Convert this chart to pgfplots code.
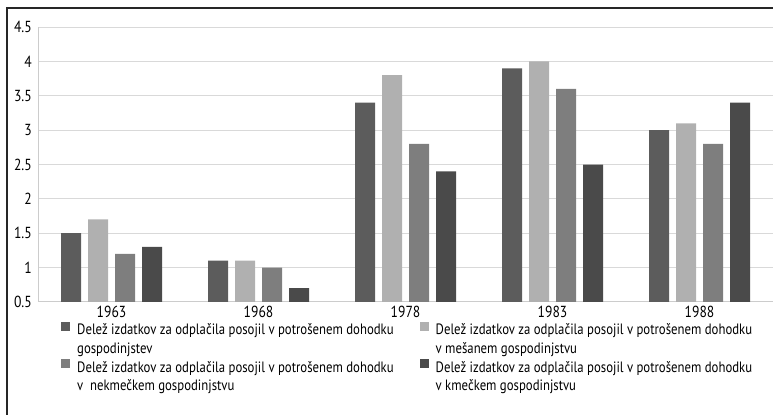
\documentclass[border=0pt]{standalone}
\usepackage{pgfplots}
\pgfplotsset{compat=1.18}
\usepackage{fontspec}
\setmainfont{PT Sans}[FakeStretch=0.85]
\definecolor{cA}{HTML}{5C5C5C}
\definecolor{cB}{HTML}{B0B0B0}
\definecolor{cC}{HTML}{7E7E7E}
\definecolor{cD}{HTML}{4A4A4A}
\newcommand{\twol}[2]{\vtop{\baselineskip=18.5bp\hbox{#1}\hbox{#2}}}
\begin{document}
\fontsize{15bp}{18bp}\selectfont
\begin{tikzpicture}
\useasboundingbox (0bp,0bp) rectangle (773bp,-415bp);
\draw[line width=1.3bp, black!85] (7bp,-416bp) -- (7bp,-8bp) -- (774bp,-8bp);
\begin{axis}[
  at={(38bp,-27bp)}, anchor=north west,
  width=735bp, height=275bp, scale only axis,
  ymin=0.5, ymax=4.5, xmin=-0.5, xmax=4.5,
  ytick={0.5,1,1.5,2,2.5,3,3.5,4,4.5},
  yticklabels={0.5,1,1.5,2,2.5,3,3.5,4,4.5},
  xtick={0,1,2,3,4},
  xticklabels={1963,1968,1978,1983,1988},
  major tick length=0pt,
  axis x line*=bottom, axis y line*=left,
  axis line style={draw=black!20, line width=1bp, -},
  ymajorgrids, grid style={draw=black!15, line width=1bp},
  ticklabel style={font=\fontsize{16bp}{18bp}\selectfont},
  yticklabel style={xshift=-1bp},
  xticklabel style={yshift=1bp},
  ybar, bar width=20bp,
  legend columns=2,
  legend style={at={(0.0272,-0.065)}, anchor=north west, draw=none, fill=none,
    font=\fontsize{15bp}{18.5bp}\selectfont, row sep=21bp,
    /tikz/every even column/.append style={column sep=24bp},
    /tikz/every odd column/.append style={column sep=5bp},
    nodes={inner xsep=2bp, inner ysep=1bp}},
  legend cell align=left,
  legend image code/.code={\fill[#1,draw=none] (0bp,-0.5bp) rectangle (9bp,8.5bp);},
]
\addplot[fill=cA, draw=none, bar shift=-40.5bp] coordinates {(0,1.5) (1,1.1) (2,3.4) (3,3.9) (4,3.0)};
\addplot[fill=cB, draw=none, bar shift=-13.5bp] coordinates {(0,1.7) (1,1.1) (2,3.8) (3,4.0) (4,3.1)};
\addplot[fill=cC, draw=none, bar shift=13.5bp] coordinates {(0,1.2) (1,1.0) (2,2.8) (3,3.6) (4,2.8)};
\addplot[fill=cD, draw=none, bar shift=40.5bp] coordinates {(0,1.3) (1,0.7) (2,2.4) (3,2.5) (4,3.4)};
\legend{\twol{Delež izdatkov za odplačila posojil v potrošenem dohodku}{gospodinjstev},
  \twol{Delež izdatkov za odplačila posojil v potrošenem dohodku}{v mešanem gospodinjstvu},
  \twol{Delež izdatkov za odplačila posojil v potrošenem dohodku}{v\ \ nekmečkem gospodinjstvu},
  \twol{Delež izdatkov za odplačila posojil v potrošenem dohodku}{v kmečkem gospodinjstvu}}
\end{axis}
\end{tikzpicture}
\end{document}
